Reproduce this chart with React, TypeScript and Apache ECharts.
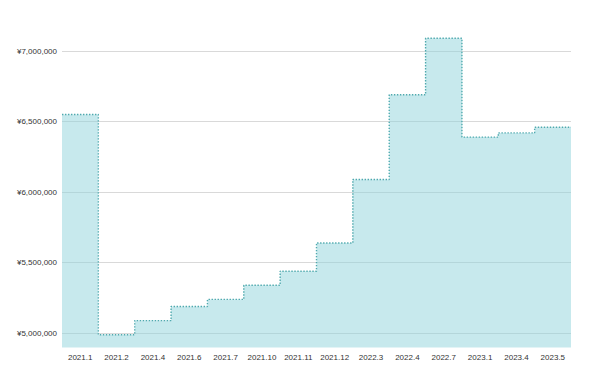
import React, { useEffect, useRef } from "react";
import * as echarts from "echarts";

const categories = [
  "2021.1", "2021.2", "2021.4", "2021.6", "2021.7", "2021.10", "2021.11",
  "2021.12", "2022.3", "2022.4", "2022.7", "2023.1", "2023.4", "2023.5",
];
const values = [
  6550000, 4990000, 5090000, 5190000, 5240000, 5340000, 5440000,
  5640000, 6090000, 6690000, 7090000, 6390000, 6420000, 6460000,
];
const yTicks = [5000000, 5500000, 6000000, 6500000, 7000000];
const yMin = 4900000;
const yMax = 7200000;

export default function App() {
  const ref = useRef<HTMLDivElement>(null);
  useEffect(() => {
    if (!ref.current) return;
    const chart = echarts.init(ref.current, null, { renderer: "svg" });
    const stepData = values.map((v, i) => [i, v]);
    stepData.push([values.length, values[values.length - 1]]);
    const font = "Arial, 'Liberation Sans', sans-serif";
    chart.setOption({
      animation: false,
      backgroundColor: "#ffffff",
      grid: { left: 62, right: 19, top: 22.8, bottom: 31.6 },
      xAxis: [
        {
          type: "category",
          data: categories,
          boundaryGap: true,
          axisLine: { show: false },
          axisTick: { show: false },
          splitLine: { show: false },
          axisLabel: {
            color: "#333",
            fontSize: 8,
            fontFamily: font,
            margin: 6,
            interval: 0,
          },
        },
        {
          type: "value",
          min: 0,
          max: categories.length,
          show: false,
        },
      ],
      yAxis: {
        type: "value",
        min: yMin,
        max: yMax,
        axisLine: { show: false },
        axisTick: { show: false, customValues: yTicks },
        splitLine: { show: true, lineStyle: { color: "#d9d9d9", width: 1 } },
        axisLabel: {
          customValues: yTicks,
          color: "#333",
          fontSize: 8,
          fontFamily: font,
          margin: 5,
          formatter: (v: number) => "¥" + Math.round(v).toLocaleString("en-US"),
        },
      },
      series: [
        {
          type: "line",
          xAxisIndex: 1,
          step: "end",
          data: stepData,
          symbol: "none",
          lineStyle: { color: "#4fa9ae", width: 1.4, type: [1.4, 1.6] },
          areaStyle: { color: "#8fd3dc", opacity: 0.5, origin: "start" },
        },
      ],
    });
    return () => chart.dispose();
  }, []);
  return (
    <div
      ref={ref}
      style={{ position: "fixed", left: 0, top: 0, width: 590, height: 379 }}
    />
  );
}
